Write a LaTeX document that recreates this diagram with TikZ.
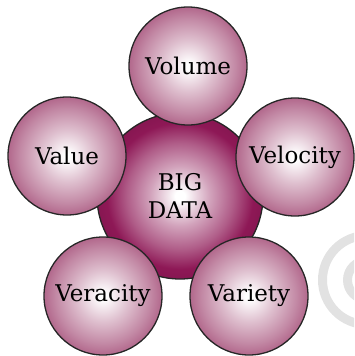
\documentclass[tikz,border=0pt]{standalone}
\usepackage{fontspec}
\setmainfont{DejaVu Serif}
\definecolor{smallout}{RGB}{178,104,140}
\definecolor{bigout}{RGB}{142,24,86}
\definecolor{ringgray}{RGB}{226,226,226}
\pgfdeclareradialshading{smallball}{\pgfpoint{0bp}{0bp}}{color(0bp)=(white); color(1.5bp)=(white); color(11bp)=(smallout!42!white); color(20bp)=(smallout!78!white); color(25bp)=(smallout); color(50bp)=(smallout)}
\pgfdeclareradialshading{bigball}{\pgfpoint{0bp}{0bp}}{color(0bp)=(white); color(1.5bp)=(white); color(9bp)=(bigout!40!white); color(16bp)=(bigout!70!white); color(22bp)=(bigout); color(25bp)=(bigout!95!black); color(50bp)=(bigout!95!black)}
\tikzset{
  ball/.style={circle, draw=black!85, line width=1.3pt, minimum size=118pt, inner sep=0pt,
    shading=smallball, font=\fontsize{23}{28}\selectfont},
  bigballstyle/.style={circle, draw=black!85, line width=1.3pt, minimum size=166pt, inner sep=0pt,
    shading=bigball, align=center, font=\fontsize{23}{28}\selectfont},
  ring/.style={draw=ringgray, line width=9pt}
}
\begin{document}
\begin{tikzpicture}[x=1pt,y=-1pt]
\useasboundingbox (0,0) rectangle (354,356);
\begin{scope}
\clip (0,0) rectangle (354,356);
\draw[ring] (367,280) circle (44.5);
\draw[ring] (367,280) circle (19.5);
\end{scope}
\node[bigballstyle] (big) at (180,196) {BIG\\DATA};
\node[ball] (volume) at (188,66) {Volume};
\node[ball] (value) at (67,156) {Value};
\node[ball] (velocity) at (295,157) {Velocity};
\node[ball] (veracity) at (103,296) {Veracity};
\node[ball] (variety) at (249,296) {Variety};
\end{tikzpicture}
\end{document}
